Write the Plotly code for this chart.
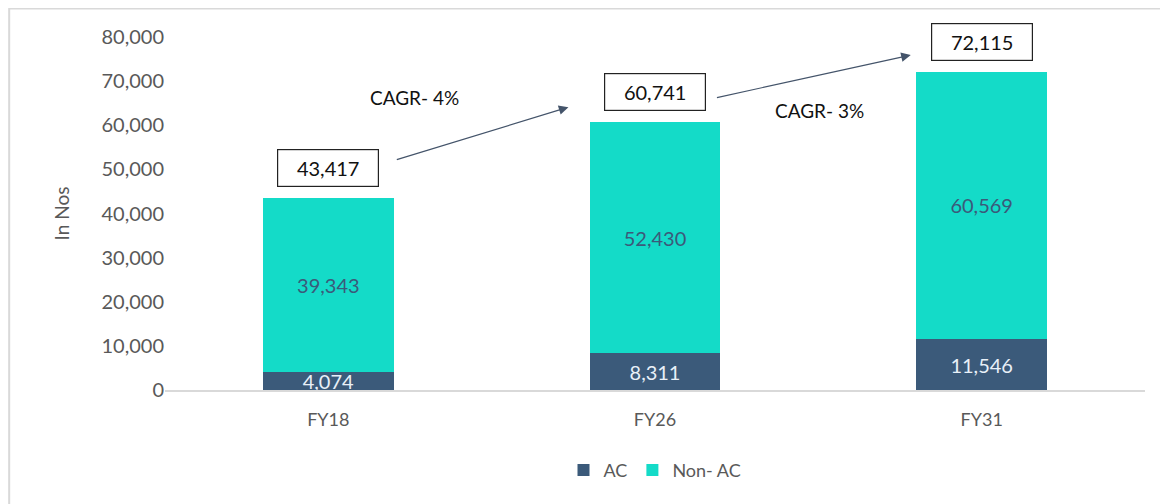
import plotly.graph_objects as go

categories = ["FY18", "FY26", "FY31"]
ac_values = [4074, 8311, 11546]
non_ac_values = [39343, 52430, 60569]
totals = [43417, 60741, 72115]
cagr_labels = ["CAGR- 4%", "CAGR- 3%"]
tick_vals = [0, 10000, 20000, 30000, 40000, 50000, 60000, 70000, 80000]

AC_COLOR = "#3B5A7A"
NONAC_COLOR = "#14DBC8"
FONT = "Lato, 'Open Sans', sans-serif"

xi = list(range(len(categories)))

fig = go.Figure()
fig.add_trace(go.Bar(
    x=xi, y=ac_values, name="AC", marker=dict(color=AC_COLOR, line=dict(width=0)),
    width=0.4, text=[f"{v:,}" for v in ac_values], textposition="inside",
    insidetextanchor="middle", textfont=dict(color="#E8F0F8", size=20, family=FONT),
    constraintext="none", cliponaxis=False,
))
fig.add_trace(go.Bar(
    x=xi, y=non_ac_values, name="Non- AC", marker=dict(color=NONAC_COLOR, line=dict(width=0)),
    width=0.4, text=[f"{v:,}" for v in non_ac_values], textposition="inside",
    insidetextanchor="middle", textfont=dict(color="#3B5A7A", size=20, family=FONT),
    constraintext="none",
))

# total value boxes above bars
for i, t in enumerate(totals):
    fig.add_annotation(
        x=i, y=t, yshift=30, text=f"{t:,}", showarrow=False,
        font=dict(size=20, color="#111111", family=FONT),
        bordercolor="#222222", borderwidth=1.2, bgcolor="white",
        width=98, height=34,
    )

# CAGR arrows
arrows = [((0.205, 52100), (0.735, 64100)), ((1.185, 66200), (1.783, 75900))]
for (tx, ty), (hx, hy) in arrows:
    fig.add_annotation(
        x=hx, y=hy, ax=tx, ay=ty, xref="x", yref="y", axref="x", ayref="y",
        text="", showarrow=True, arrowhead=2, arrowsize=1.6, arrowwidth=1.2,
        arrowcolor="#44546A",
    )

cagr_pos = [(0.265, 66300), (1.505, 63300)]
for (cx, cy), lab in zip(cagr_pos, cagr_labels):
    fig.add_annotation(x=cx, y=cy, text=lab, showarrow=False,
                       font=dict(size=19, color="#111111", family=FONT))

# outer light border
fig.add_shape(type="rect", xref="paper", yref="paper",
              x0=-0.159, x1=1.0184, y0=-0.40, y1=1.0810,
              line=dict(color="#D9D9D9", width=2), layer="below")

fig.update_layout(
    barmode="stack",
    width=1160, height=496,
    margin=dict(l=157, r=23, t=29, b=114, autoexpand=False),
    paper_bgcolor="white", plot_bgcolor="white",
    font=dict(family=FONT, color="#595959", size=17),
    showlegend=True,
    legend=dict(orientation="h", x=0.5, xanchor="center", y=-0.175, yanchor="top",
                font=dict(size=18, color="#595959"), traceorder="normal",
                itemsizing="constant", itemwidth=30),
    bargap=0.6,
)
fig.update_xaxes(
    tickvals=xi, ticktext=categories, range=[-0.5, 2.5],
    showline=True, linecolor="#D9D9D9", linewidth=1.5, ticks="",
    showgrid=False, zeroline=False, tickfont=dict(size=18, color="#595959"),
    ticklabelstandoff=13, automargin=False,
)
fig.update_yaxes(
    range=[0, 80000], tickvals=tick_vals, ticktext=[f"{v:,}" for v in tick_vals],
    showgrid=False, zeroline=False, showline=False, ticks="",
    tickfont=dict(size=20, color="#595959"), automargin=False,
    title=dict(text="In Nos", font=dict(size=19, color="#595959"), standoff=26),
)

fig.write_html("out.html")
